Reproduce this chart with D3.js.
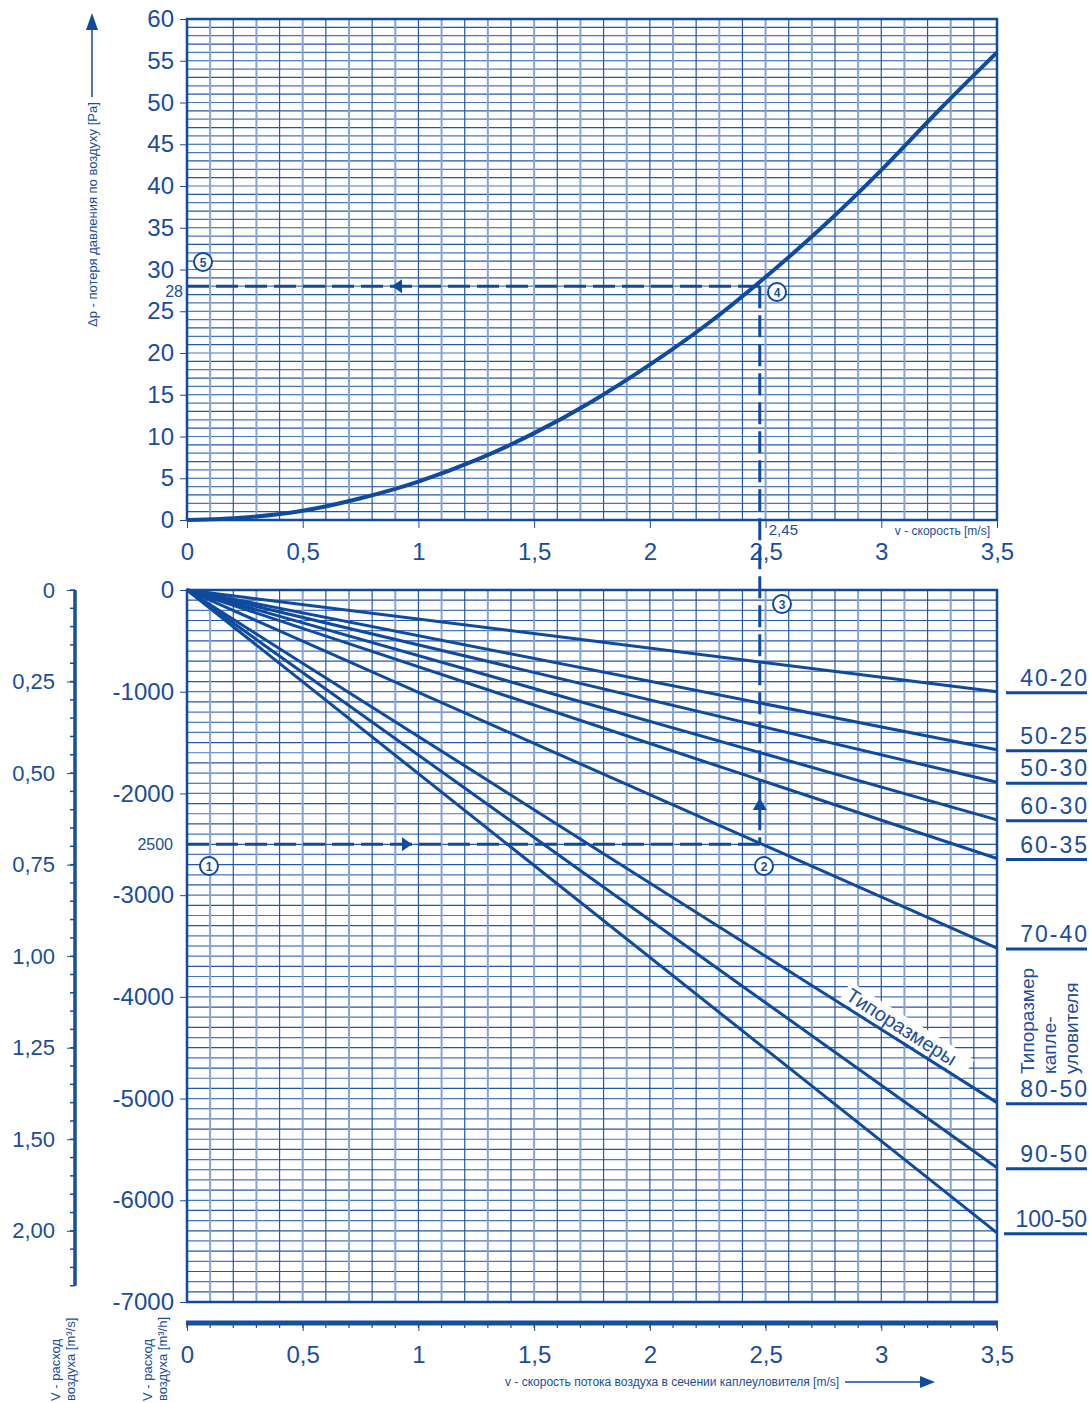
<!DOCTYPE html>
<html>
<head>
<meta charset="utf-8">
<script src="https://cdn.jsdelivr.net/npm/d3@7"></script>
<style>
  body { margin: 0; background: #fff; }
  text { font-family: "Liberation Sans", Arial, sans-serif; fill: #1a4d9c; }
  .axis path, .axis line { stroke: #1a4d9c; }
  .axis text { font-size: 24px; }
</style>
</head>
<body>
<div id="chart"></div>
<script>
const WIDTH = 1089, HEIGHT = 1403;
const BLUE = "#0f4a9e", DARK = "#2357a8", LIGHT = "#86a3d6";

// top chart: pressure drop vs velocity
const velocity = [0, 0.25, 0.5, 0.75, 1, 1.25, 1.5, 1.75, 2, 2.25, 2.5, 2.75, 3, 3.25, 3.5];
const pressureDrop = [0, 0.3, 1.1, 2.6, 4.6, 7.2, 10.4, 14.2, 18.6, 23.5, 29.1, 35.2, 41.9, 49.1, 56.0];
const pressureTicks = [0, 5, 10, 15, 20, 25, 30, 35, 40, 45, 50, 55, 60];
const speedTicks = [0, 0.5, 1, 1.5, 2, 2.5, 3, 3.5];

// bottom chart: air flow per droplet separator size at 3.5 m/s
const sizes = ["40-20", "50-25", "50-30", "60-30", "60-35", "70-40", "80-50", "90-50", "100-50"];
const flowAt35 = [1000, 1570, 1890, 2260, 2640, 3520, 5040, 5680, 6320];
const flowTicks = [0, -1000, -2000, -3000, -4000, -5000, -6000, -7000];
const flowSecTicks = [0, 0.25, 0.5, 0.75, 1, 1.25, 1.5, 1.75];
const flowSecLabels = ["0", "0,25", "0,50", "0,75", "1,00", "1,25", "1,50", "2,00"];

// worked example (the guide line sits slightly right of 2,45 in the original)
const exSpeed = 2.475, exFlow = -2500, exDrop = 28;

const comma = d => String(d).replace(".", ",");

const svg = d3.select("#chart").append("svg")
  .attr("width", WIDTH).attr("height", HEIGHT);

const x = d3.scaleLinear().domain([0, 3.5]).range([187, 997]);
const yTop = d3.scaleLinear().domain([0, 60]).range([520, 19]);
const yBot = d3.scaleLinear().domain([0, -7000]).range([590, 1302]);
const ySec = d3.scaleLinear().domain([0, 7000 / 3600]).range([590, 1302]);

const tenths = d3.range(0, 36).map(i => i / 10);

function grid(yScale, hVals, y0, y1) {
  const g = svg.append("g");
  g.selectAll(".h").data(hVals).join("line")
    .attr("x1", x(0)).attr("x2", x(3.5))
    .attr("y1", d => yScale(d)).attr("y2", d => yScale(d))
    .attr("stroke", (d, i) => i % 2 ? DARK : "#4a76bd").attr("stroke-width", 1.2);
  g.selectAll(".v").data(tenths).join("line")
    .attr("x1", d => x(d)).attr("x2", d => x(d))
    .attr("y1", y0).attr("y2", y1)
    .attr("stroke", (d, i) => i % 2 ? LIGHT : DARK)
    .attr("stroke-width", (d, i) => i % 2 ? 2 : 1.2);
  g.append("rect").attr("x", x(0)).attr("y", y1)
    .attr("width", x(3.5) - x(0)).attr("height", y0 - y1)
    .attr("fill", "none").attr("stroke", BLUE).attr("stroke-width", 2.5);
}

// ---------- top chart ----------
grid(yTop, d3.range(0, 61), yTop(0), yTop(60));

svg.append("g").attr("class", "axis")
  .attr("transform", `translate(${x(0)},0)`)
  .call(d3.axisLeft(yTop).tickValues(pressureTicks).tickSize(7).tickPadding(6))
  .call(g => g.select(".domain").remove());

svg.append("g").attr("class", "axis")
  .attr("transform", `translate(0,${yTop(0)})`)
  .call(d3.axisBottom(x).tickValues(speedTicks).tickFormat(comma).tickSize(8).tickPadding(15))
  .call(g => g.select(".domain").remove());

svg.append("path")
  .datum(velocity.map((v, i) => [v, pressureDrop[i]]))
  .attr("d", d3.line().x(d => x(d[0])).y(d => yTop(d[1])).curve(d3.curveMonotoneX))
  .attr("fill", "none").attr("stroke", BLUE).attr("stroke-width", 4);

svg.append("text").attr("x", 183).attr("y", yTop(exDrop) + 11)
  .attr("text-anchor", "end").style("font-size", "16px").text("28");
svg.append("text").attr("x", x(exSpeed) + 9).attr("y", 535)
  .style("font-size", "15px").text("2,45");
svg.append("text").attr("x", 990).attr("y", 535)
  .attr("text-anchor", "end").style("font-size", "12px").text("v - скорость [m/s]");

svg.append("text")
  .attr("transform", "translate(97,327) rotate(-90)")
  .style("font-size", "13px").text("Δp - потеря давления по воздуху [Pa]");
svg.append("line").attr("x1", 92).attr("x2", 92).attr("y1", 97).attr("y2", 26)
  .attr("stroke", BLUE).attr("stroke-width", 1.5);
svg.append("path").attr("d", "M92,13 L86,30 L98,30 Z").attr("fill", BLUE);

// ---------- bottom chart ----------
grid(yBot, d3.range(0, -7001, -100), yBot(-7000), yBot(0));

svg.append("g").attr("class", "axis")
  .attr("transform", `translate(${x(0)},0)`)
  .call(d3.axisLeft(yBot).tickValues(flowTicks).tickFormat(d => d === 0 ? "0" : "-" + Math.abs(d)).tickSize(7).tickPadding(6))
  .call(g => g.select(".domain").remove());

// size lines
svg.selectAll(".size").data(flowAt35).join("line")
  .attr("x1", x(0)).attr("y1", yBot(0))
  .attr("x2", x(3.5)).attr("y2", d => yBot(-d))
  .attr("stroke", BLUE).attr("stroke-width", 3);

// size labels with underline
const lab = svg.append("g");
sizes.forEach((s, i) => {
  const yy = yBot(-flowAt35[i]) + 1;
  const long = s.length > 5;
  lab.append("line").attr("x1", long ? 1004 : 1006).attr("x2", 1087)
    .attr("y1", yy).attr("y2", yy).attr("stroke", BLUE).attr("stroke-width", 3);
  lab.append("text").attr("x", long ? 1087 : 1089).attr("y", yy - 7)
    .attr("text-anchor", "end").style("font-size", "23px")
    .style("letter-spacing", long ? "0px" : "2px").text(s);
});

svg.append("text").attr("transform", "translate(1034,1074) rotate(-90)")
  .style("font-size", "19px").text("Типоразмер");
svg.append("text").attr("transform", "translate(1056,1074) rotate(-90)")
  .style("font-size", "19px").text("капле-");
svg.append("text").attr("transform", "translate(1078,1074) rotate(-90)")
  .style("font-size", "19px").text("уловителя");

// "Типоразмеры" sitting on the 80-50 line
const v0 = x.invert(838);
const ang = Math.atan2(yBot(-flowAt35[6]) - yBot(0), x(3.5) - x(0)) * 180 / Math.PI;
const tg = svg.append("g")
  .attr("transform", `translate(${x(v0)},${yBot(-flowAt35[6] * v0 / 3.5)}) rotate(${ang})`);
tg.append("rect").attr("x", 0).attr("y", -24).attr("width", 146).attr("height", 22).attr("fill", "#fff");
tg.append("text").attr("x", 4).attr("y", -6).style("font-size", "20px").text("Типоразмеры");

// secondary flow axis m3/s
const sec = svg.append("g").attr("class", "axis").attr("transform", "translate(75,0)");
sec.call(d3.axisLeft(ySec).tickValues(flowSecTicks)
  .tickFormat((d, i) => flowSecLabels[i]).tickSize(8).tickPadding(12))
  .call(g => g.select(".domain").remove())
  .call(g => g.selectAll("text").style("font-size", "22px"));
sec.selectAll(".minor").data(d3.range(0, 1.91, 0.05)).join("line")
  .attr("x1", -5).attr("x2", 0).attr("y1", d => ySec(d)).attr("y2", d => ySec(d))
  .attr("stroke", BLUE).attr("stroke-width", 1.5);
sec.append("line").attr("x1", 0).attr("x2", 0).attr("y1", ySec(0)).attr("y2", ySec(1.9))
  .attr("stroke", BLUE).attr("stroke-width", 3.5);

// bottom speed axis
const bx = svg.append("g").attr("class", "axis").attr("transform", "translate(0,1323)");
bx.call(d3.axisBottom(x).tickValues(speedTicks).tickFormat(comma).tickSize(8).tickPadding(15))
  .call(g => g.select(".domain").remove());
bx.selectAll(".minor").data(tenths.concat([3.5])).join("line")
  .attr("x1", d => x(d)).attr("x2", d => x(d)).attr("y1", 0).attr("y2", 5)
  .attr("stroke", BLUE).attr("stroke-width", 1.2);
bx.append("line").attr("x1", x(0) - 1).attr("x2", x(3.5) + 1).attr("y1", 0).attr("y2", 0)
  .attr("stroke", BLUE).attr("stroke-width", 5);

svg.append("text").attr("x", 505).attr("y", 1386)
  .style("font-size", "12px").text("v - скорость потока воздуха в сечении каплеуловителя [m/s]");
svg.append("line").attr("x1", 845).attr("x2", 925).attr("y1", 1382).attr("y2", 1382)
  .attr("stroke", BLUE).attr("stroke-width", 1.5);
svg.append("path").attr("d", "M935,1382 L920,1376 L920,1388 Z").attr("fill", BLUE);

[["V - расход", "воздуха [m³/s]", 60], ["V - расход", "воздуха [m³/h]", 152]].forEach(([a, b, px]) => {
  svg.append("text").attr("transform", `translate(${px},1401) rotate(-90)`)
    .style("font-size", "13px").text(a);
  svg.append("text").attr("transform", `translate(${px + 15},1401) rotate(-90)`)
    .style("font-size", "13px").text(b);
});

// ---------- worked example dashed path ----------
const dash = { stroke: BLUE, "stroke-width": 3, "stroke-dasharray": "22,7" };
function dashed(x1, y1, x2, y2) {
  const l = svg.append("line").attr("x1", x1).attr("y1", y1).attr("x2", x2).attr("y2", y2);
  Object.entries(dash).forEach(([k, v]) => l.attr(k, v));
}
dashed(x(0), yTop(exDrop), x(exSpeed), yTop(exDrop));
dashed(x(exSpeed), yTop(exDrop), x(exSpeed), yBot(exFlow));
dashed(x(0), yBot(exFlow), x(exSpeed), yBot(exFlow));

svg.append("text").attr("x", 173).attr("y", yBot(exFlow) + 6)
  .attr("text-anchor", "end").style("font-size", "16px").text("2500");

// arrowheads
svg.append("path").attr("d", `M392,${yTop(exDrop)} l10,-7 l0,14 Z`)
  .attr("fill", BLUE);
svg.append("path").attr("d", `M412,${yBot(exFlow)} l-10,-7 l0,14 Z`)
  .attr("fill", BLUE);
svg.append("path").attr("d", `M${x(exSpeed)},798 l-7,12 l14,0 Z`)
  .attr("fill", BLUE);

// circled step numbers
const steps = [[209, 866, "1"], [764, 866, "2"], [782, 604, "3"], [777, 292, "4"], [203, 262, "5"]];
steps.forEach(([cx, cy, t]) => {
  svg.append("circle").attr("cx", cx).attr("cy", cy).attr("r", 9)
    .attr("fill", "#fff").attr("stroke", BLUE).attr("stroke-width", 2);
  svg.append("text").attr("x", cx).attr("y", cy + 4.5).attr("text-anchor", "middle")
    .style("font-size", "12px").style("font-weight", "bold").text(t);
});
</script>
</body>
</html>
